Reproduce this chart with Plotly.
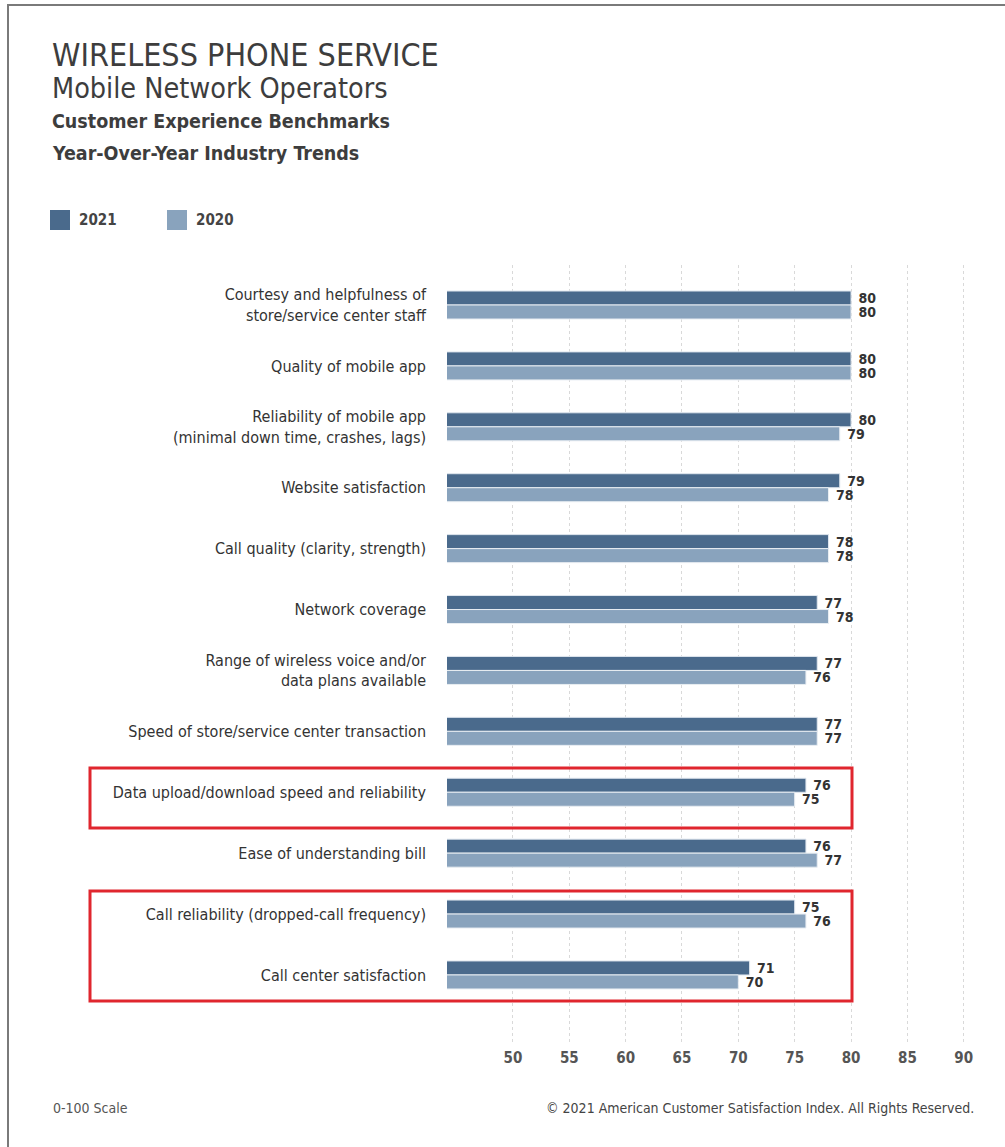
import plotly.graph_objects as go

categories = [
    "Courtesy and helpfulness of<br>store/service center staff",
    "Quality of mobile app",
    "Reliability of mobile app<br>(minimal down time, crashes, lags)",
    "Website satisfaction",
    "Call quality (clarity, strength)",
    "Network coverage",
    "Range of wireless voice and/or<br>data plans available",
    "Speed of store/service center transaction",
    "Data upload/download speed and reliability",
    "Ease of understanding bill",
    "Call reliability (dropped-call frequency)",
    "Call center satisfaction",
]
values_2021 = [80, 80, 80, 79, 78, 77, 77, 77, 76, 76, 75, 71]
values_2020 = [80, 80, 79, 78, 78, 78, 76, 77, 75, 77, 76, 70]
tick_vals = [50, 55, 60, 65, 70, 75, 80, 85, 90]

C2021 = "#4a6a8c"
C2020 = "#89a3bd"
NARROW = "Liberation Sans Narrow, Arial Narrow, DejaVu Sans Condensed, sans-serif"

W, H = 1005, 1147
ML, MR, MT, MB = 447, 30, 265, 102
PW, PH = W - ML - MR, H - MT - MB


def px(x):
    return (x - ML) / PW


def py(y):
    return (H - MB - y) / PH


fig = go.Figure()
for name, vals, col, lc in [("2021", values_2021, C2021, "#dfe6ee"),
                            ("2020", values_2020, C2020, "#e8edf2")]:
    fig.add_trace(go.Bar(
        y=categories, x=vals, orientation="h", name=name,
        marker=dict(color=col, line=dict(color=lc, width=1)),
        text=vals, texttemplate=" %{x}", textposition="outside", cliponaxis=False,
        constraintext="none",
        textfont=dict(family=NARROW, size=14, color="#333333", weight="bold"),
    ))

# legend
for i, (lab, col) in enumerate([("2021", C2021), ("2020", C2020)]):
    x0 = 50 + i * 117
    fig.add_shape(type="rect", xref="paper", yref="paper",
                  x0=px(x0), x1=px(x0 + 20), y0=py(230), y1=py(210),
                  fillcolor=col, line=dict(width=0))
    fig.add_annotation(xref="paper", yref="paper", x=px(x0 + 27), y=py(220),
                       text="<b>%s</b>" % lab, showarrow=False, xanchor="left",
                       yanchor="middle",
                       font=dict(family=NARROW, size=15, color="#444444"))

# titles
titles = [
    ("WIRELESS PHONE SERVICE", 55, 32, False),
    ("Mobile Network Operators", 89, 28.5, False),
    ("Customer Experience Benchmarks", 121, 19.5, True),
    ("Year-Over-Year Industry Trends", 153, 19.5, True),
]
for t, y, s, b in titles:
    fig.add_annotation(xref="paper", yref="paper", x=px(50), y=py(y),
                       text=("<b>%s</b>" % t) if b else t, showarrow=False,
                       xanchor="left", yanchor="middle",
                       font=dict(family=NARROW, size=s, color="#3d3d3d"))

# footer
fig.add_annotation(xref="paper", yref="paper", x=px(51), y=py(1108),
                   text="0-100 Scale", showarrow=False, xanchor="left",
                   yanchor="middle", font=dict(family=NARROW, size=14, color="#555555"))
fig.add_annotation(xref="paper", yref="paper", x=px(976), y=py(1108),
                   text="© 2021 American Customer Satisfaction Index. All Rights Reserved.",
                   showarrow=False, xanchor="right", yanchor="middle",
                   font=dict(family=NARROW, size=14, color="#444444"))

# highlight boxes
for y0, y1 in [(768, 828), (891, 1001)]:
    fig.add_shape(type="rect", xref="paper", yref="paper",
                  x0=px(90), x1=px(852), y0=py(y1), y1=py(y0),
                  line=dict(color="#e0262e", width=3), fillcolor="rgba(0,0,0,0)")

# frame
fig.add_shape(type="line", xref="paper", yref="paper",
              x0=px(8), x1=px(8), y0=py(1147), y1=py(5),
              line=dict(color="#7a7a7a", width=2))
fig.add_shape(type="line", xref="paper", yref="paper",
              x0=px(7), x1=px(1005), y0=py(5), y1=py(5),
              line=dict(color="#7a7a7a", width=2))

fig.update_layout(
    width=W, height=H,
    margin=dict(l=ML, r=MR, t=MT, b=MB),
    paper_bgcolor="white", plot_bgcolor="white",
    barmode="group", bargap=0.54, bargroupgap=0.0,
    showlegend=False,
    xaxis=dict(range=[44.15, 91], tickvals=tick_vals, showgrid=True,
               gridcolor="#d9d9d9", griddash="dot", gridwidth=1,
               zeroline=False, showline=False, ticks="",
               tickfont=dict(family=NARROW, size=15, color="#555555", weight="bold"),
               ticklabelstandoff=2),
    yaxis=dict(autorange=False, range=[12.15, -0.657], showgrid=False,
               zeroline=False, showline=False, ticks="",
               tickfont=dict(family=NARROW, size=16, color="#333333"),
               ticklabelstandoff=20),
)

fig.write_html("out.html")
